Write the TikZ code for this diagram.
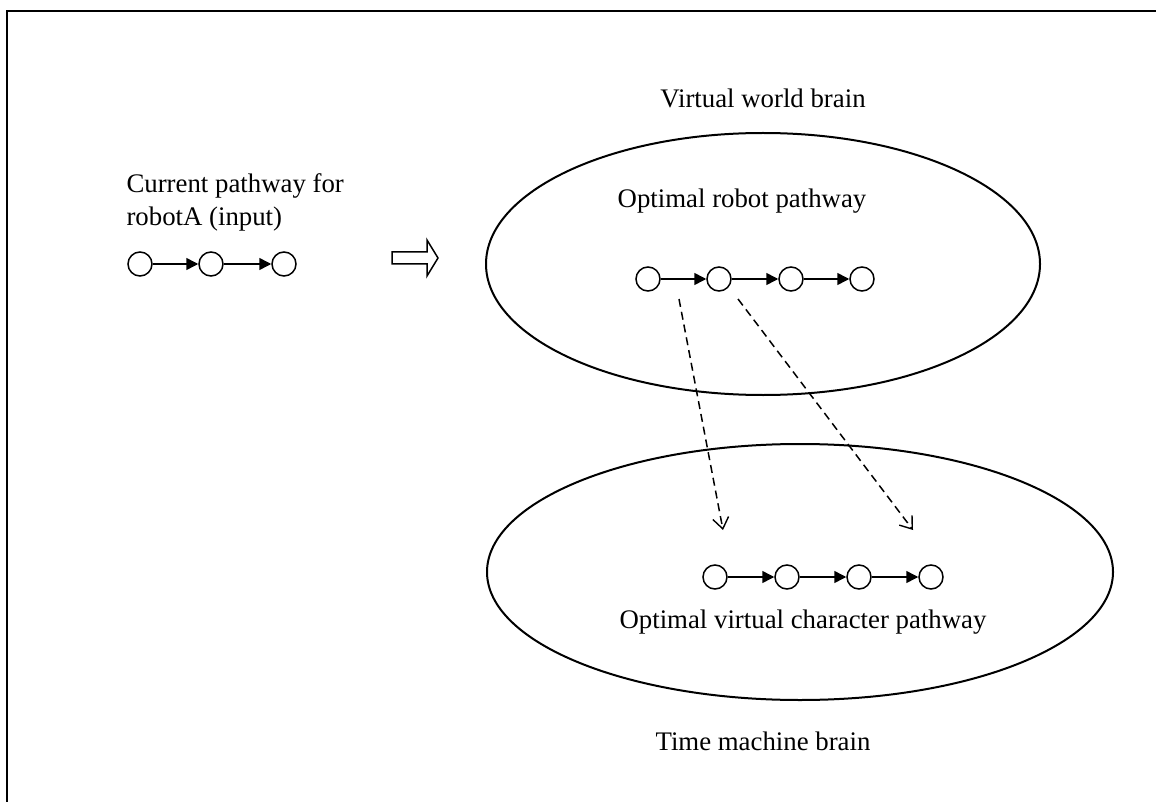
\documentclass[tikz,border=0pt]{standalone}
\usepackage{fontspec}
\setmainfont{Liberation Serif}
\usetikzlibrary{arrows.meta}
\begin{document}
\begin{tikzpicture}[x=1pt,y=-1pt,
  every node/.style={font=\fontsize{26.8}{33}\selectfont},
  pnode/.style={circle,draw,line width=1.5pt,minimum size=24pt,inner sep=0pt},
  link/.style={line width=1.5pt,-{Triangle[length=12pt,width=12pt]}},
  dlink/.style={line width=1.5pt,dashed,dash pattern=on 8pt off 5pt,-{Straight Barb[length=11pt,width=16pt,line width=1.4pt]}}]
\useasboundingbox (0,0) rectangle (1156,802);
\draw[line width=2pt] (7,802) -- (7,11) -- (1156,11);
% labels
\node[anchor=base west] (cur1) at (123,193) {Current pathway for};
\node[anchor=base west] (cur2) at (123,226) {robotA (input)};
\node[anchor=base] (vwb) at (763,108) {Virtual world brain};
\node[anchor=base] (orp) at (742,208) {Optimal robot pathway};
\node[anchor=base] (ovc) at (803,628) {Optimal virtual character pathway};
\node[anchor=base] (tmb) at (763,750) {Time machine brain};
% ellipses
\draw[line width=2pt] (763,264) ellipse [x radius=277, y radius=131];
\draw[line width=2pt] (800,572) ellipse [x radius=313, y radius=128];
% input chain
\node[pnode] (a1) at (140,264) {};
\node[pnode] (a2) at (211,264) {};
\node[pnode] (a3) at (284,264) {};
\draw[link] (a1) -- (a2);
\draw[link] (a2) -- (a3);
% block arrow
\draw[line width=1.5pt] (392,252) -- (427,252) -- (427,240) -- (438,258) -- (427,276) -- (427,264) -- (392,264) -- cycle;
% robot chain
\node[pnode] (b1) at (648,279) {};
\node[pnode] (b2) at (719,279) {};
\node[pnode] (b3) at (791,279) {};
\node[pnode] (b4) at (862,279) {};
\draw[link] (b1) -- (b2);
\draw[link] (b2) -- (b3);
\draw[link] (b3) -- (b4);
% character chain
\node[pnode] (c1) at (715,577) {};
\node[pnode] (c2) at (787,577) {};
\node[pnode] (c3) at (859,577) {};
\node[pnode] (c4) at (931,577) {};
\draw[link] (c1) -- (c2);
\draw[link] (c2) -- (c3);
\draw[link] (c3) -- (c4);
% dashed mappings
\coordinate (s1) at (679,299);
\coordinate (s2) at (738,299);
\coordinate (t1) at (723,530);
\coordinate (t2) at (913,530);
\draw[dlink] (s1) -- (t1);
\draw[dlink] (s2) -- (t2);
\end{tikzpicture}
\end{document}
